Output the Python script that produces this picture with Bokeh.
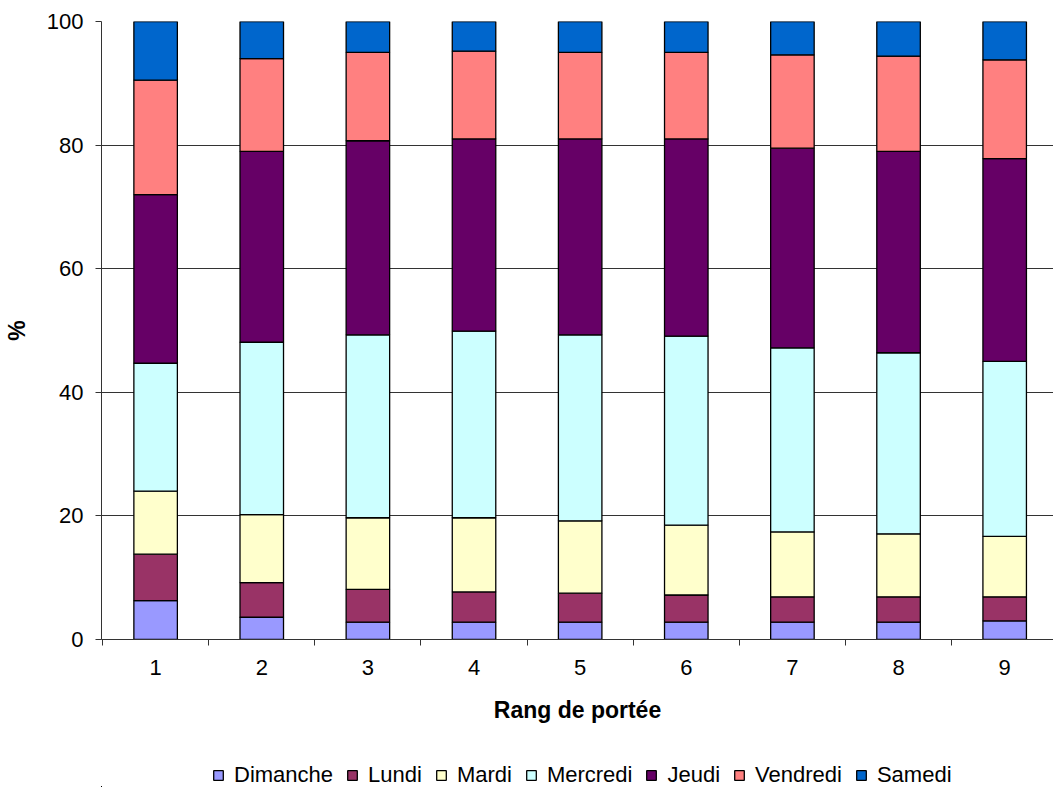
from bokeh.plotting import figure
from bokeh.models import FixedTicker, ColumnDataSource, Legend
from bokeh.layouts import column
from bokeh.embed import file_html
from bokeh.resources import INLINE

rangs = [1, 2, 3, 4, 5, 6, 7, 8, 9]
rang_labels = ["1", "2", "3", "4", "5", "6", "7", "8", "9"]
jours = ["Dimanche", "Lundi", "Mardi", "Mercredi", "Jeudi", "Vendredi", "Samedi"]
dimanche = [6.3, 3.6, 2.8, 2.8, 2.8, 2.8, 2.8, 2.8, 3.0]
lundi = [7.5, 5.6, 5.3, 4.9, 4.7, 4.4, 4.1, 4.1, 3.9]
mardi = [10.2, 11.0, 11.6, 12.0, 11.7, 11.3, 10.5, 10.2, 9.8]
mercredi = [20.7, 27.9, 29.6, 30.2, 30.1, 30.6, 29.8, 29.3, 28.3]
jeudi = [27.3, 30.9, 31.4, 31.1, 31.7, 31.9, 32.3, 32.6, 32.8]
vendredi = [18.5, 15.0, 14.3, 14.2, 14.0, 14.0, 15.1, 15.4, 16.0]
samedi = [9.5, 6.0, 5.0, 4.8, 5.0, 5.0, 5.4, 5.6, 6.2]
couleurs = ["#9999FF", "#993366", "#FFFFCC", "#CCFFFF", "#660066", "#FF8080", "#0066CC"]
y_ticks = [0, 20, 40, 60, 80, 100]

data = {"x": rangs}
for name, vals in zip(jours, [dimanche, lundi, mardi, mercredi, jeudi, vendredi, samedi]):
    data[name] = vals
source = ColumnDataSource(data)

FONT = "Liberation Sans"
FS = "22px"

p = figure(width=1053, height=748, output_backend="svg", toolbar_location=None,
           x_range=(0.49, 9.46), y_range=(0, 100),
           min_border_left=101, min_border_top=21, min_border_right=0, min_border_bottom=109)
p.outline_line_color = None
p.background_fill_color = "white"
p.border_fill_color = "white"

renderers = p.vbar_stack(jours, x="x", width=0.41, source=source,
                         fill_color=couleurs, line_color="black", line_width=1.3)

# axes
p.xaxis.ticker = FixedTicker(ticks=rangs, minor_ticks=[r + 0.5 for r in [0] + rangs])
p.xaxis.major_label_overrides = {r: l for r, l in zip(rangs, rang_labels)}
p.xaxis.major_tick_out = 0
p.xaxis.major_tick_in = 0
p.xaxis.minor_tick_out = 6
p.xaxis.minor_tick_in = 0
p.xaxis.minor_tick_line_color = "#333333"
p.xaxis.axis_line_color = "#333333"
p.xaxis.major_label_standoff = 14
p.xaxis.axis_label = "Rang de portée"
p.xaxis.axis_label_standoff = 19

p.yaxis.ticker = FixedTicker(ticks=y_ticks, minor_ticks=[])
p.yaxis.major_tick_out = 6
p.yaxis.major_tick_in = 0
p.yaxis.major_tick_line_color = "#333333"
p.yaxis.axis_line_color = "#333333"
p.yaxis.major_label_standoff = 12
p.yaxis.axis_label = "%"
p.yaxis.axis_label_standoff = 14

for ax in [p.xaxis, p.yaxis]:
    ax.major_label_text_font = FONT
    ax.major_label_text_font_size = FS
    ax.major_label_text_color = "black"
    ax.axis_label_text_font = FONT
    ax.axis_label_text_font_size = "23px"
    ax.axis_label_text_font_style = "bold"
    ax.axis_label_text_color = "black"
    ax.axis_line_width = 1

p.xgrid.grid_line_color = None
p.ygrid.ticker = FixedTicker(ticks=[20, 40, 60, 80, 100])
p.ygrid.grid_line_color = "#333333"
p.ygrid.grid_line_width = 1

# legend figure below the chart
pl = figure(width=1053, height=39, output_backend="svg", toolbar_location=None,
            x_range=(100, 101), y_range=(100, 101),
            x_axis_location=None, y_axis_location=None,
            min_border_left=0, min_border_right=0, min_border_top=0, min_border_bottom=0)
pl.grid.visible = False
pl.outline_line_color = None
pl.border_fill_color = "white"
leg_renderers = pl.vbar_stack(jours, x="x", width=0.41, source=source,
                              fill_color=couleurs, line_color="black", line_width=1.3)

legend = Legend(items=[(name, [r]) for name, r in zip(jours, leg_renderers)],
                orientation="horizontal", location=(111, -1),
                label_text_font=FONT, label_text_font_size=FS, label_text_color="black",
                glyph_width=12, glyph_height=12, label_standoff=10, spacing=13,
                border_line_color=None, background_fill_alpha=0,
                margin=0, padding=0)
pl.add_layout(legend, "center")

layout = column(p, pl, spacing=0)
open("out.html", "w").write(file_html(layout, INLINE))
